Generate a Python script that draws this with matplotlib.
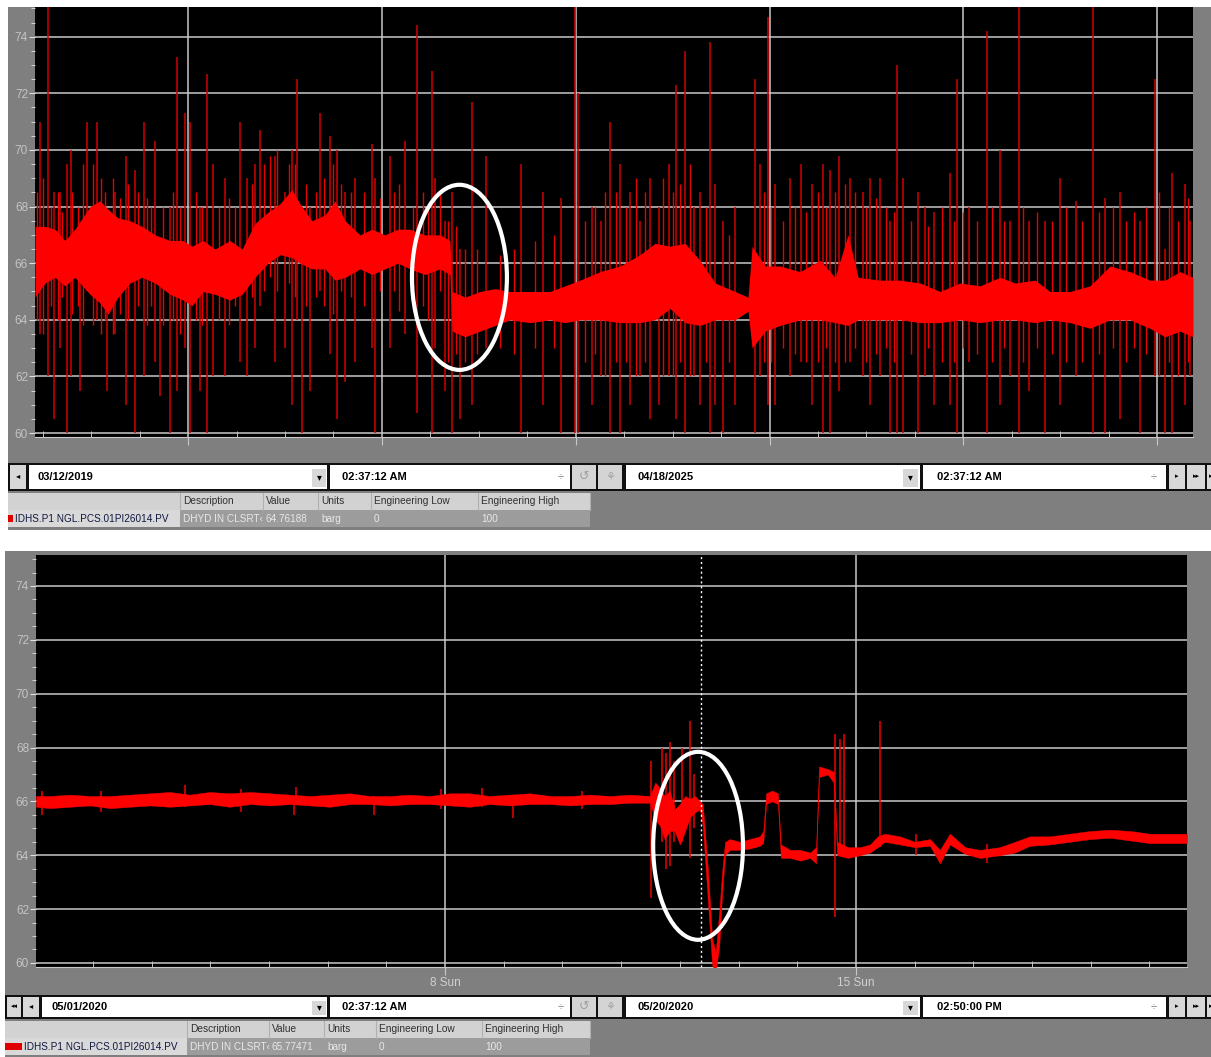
import numpy as np
import matplotlib
matplotlib.use('Agg')
import matplotlib.pyplot as plt
from matplotlib.patches import Rectangle, Ellipse

plt.rcParams['font.family'] = ['Liberation Sans', 'DejaVu Sans']

# ---------------- top trend: 03/12/2019 -> 04/18/2025, x in years from start
top_x = [0.000, 0.052, 0.103, 0.155, 0.206, 0.284, 0.335, 0.377, 0.428, 0.490,
         0.552, 0.619, 0.697, 0.764, 0.810, 0.867, 0.929, 1.006, 1.068, 1.135,
         1.202, 1.264, 1.326, 1.367, 1.429, 1.496, 1.548, 1.600, 1.677, 1.739,
         1.806, 1.873, 1.935, 2.012, 2.090, 2.141, 2.152, 2.219, 2.296, 2.374,
         2.451, 2.554, 2.657, 2.735, 2.812, 2.915, 3.019, 3.122, 3.199, 3.277,
         3.354, 3.431, 3.509, 3.612, 3.679, 3.700, 3.767, 3.844, 3.947, 4.051,
         4.128, 4.195, 4.247, 4.360, 4.463, 4.567, 4.670, 4.773, 4.876, 4.979,
         5.057, 5.160, 5.237, 5.341, 5.444, 5.547, 5.650, 5.753, 5.831, 5.908, 5.975]
top_lo = [64.8, 65.3, 65.5, 65.2, 65.5, 64.9, 64.6, 64.2, 64.8, 65.3,
          65.5, 65.3, 64.9, 64.7, 64.5, 65.0, 64.9, 64.7, 64.9, 65.5,
          66.0, 66.3, 66.2, 66.0, 65.8, 65.8, 65.4, 65.5, 65.8, 65.6,
          65.8, 66.0, 65.8, 65.6, 65.8, 65.6, 63.6, 63.4, 63.6, 63.8,
          64.0, 63.9, 64.0, 63.9, 64.0, 64.0, 63.9, 63.9, 64.0, 64.4,
          63.9, 63.8, 64.0, 64.0, 64.3, 63.0, 63.6, 63.8, 64.0, 64.0,
          63.9, 63.8, 64.0, 64.0, 64.0, 63.9, 63.9, 64.0, 63.9, 64.0,
          64.0, 63.9, 64.0, 63.9, 63.7, 64.0, 64.0, 63.7, 63.4, 63.6, 63.4]
top_hi = [67.3, 67.3, 67.2, 66.8, 67.2, 68.0, 68.2, 67.9, 67.6, 67.5,
          67.3, 67.0, 66.8, 66.8, 66.6, 66.8, 66.5, 66.8, 66.5, 67.4,
          67.8, 68.1, 68.6, 68.1, 67.5, 67.7, 68.2, 67.5, 67.0, 67.2,
          67.0, 67.2, 67.2, 67.0, 67.0, 66.8, 65.0, 64.8, 65.0, 65.1,
          65.0, 65.0, 65.0, 65.2, 65.4, 65.7, 65.9, 66.3, 66.7, 66.6,
          66.7, 66.1, 65.3, 65.0, 64.8, 66.6, 65.9, 65.9, 65.7, 66.1,
          65.5, 67.0, 65.5, 65.4, 65.4, 65.3, 65.0, 65.3, 65.2, 65.5,
          65.3, 65.4, 65.0, 65.0, 65.2, 65.9, 65.7, 65.4, 65.4, 65.7, 65.5]

# isolated spikes of the top trend
spike_x = [0.026, 0.067, 0.098, 0.129, 0.165, 0.186, 0.232, 0.268, 0.320, 0.372,
           0.413, 0.470, 0.516, 0.562, 0.619, 0.645, 0.697, 0.733, 0.774, 0.800,
           0.851, 0.888, 0.918, 0.980, 1.058, 1.094, 1.135, 1.161, 1.238, 1.290,
           1.326, 1.352, 1.378, 1.420, 1.471, 1.522, 1.558, 1.600, 1.651, 1.739,
           1.754, 1.832, 1.909, 1.971, 2.048, 2.064, 2.116, 2.152, 2.193, 2.255,
           2.327, 2.508, 2.621, 2.714, 2.786, 2.802, 2.874, 2.920, 2.967, 3.019,
           3.070, 3.120, 3.173, 3.220, 3.270, 3.308, 3.354, 3.400, 3.431, 3.483,
           3.510, 3.550, 3.610, 3.715, 3.740, 3.782, 3.820, 3.896, 3.950, 4.010,
           4.066, 4.102, 4.150, 4.205, 4.270, 4.310, 4.360, 4.410, 4.448, 4.479,
           4.556, 4.590, 4.640, 4.721, 4.757, 4.820, 4.912, 4.979, 5.030, 5.077,
           5.130, 5.210, 5.289, 5.370, 5.459, 5.520, 5.599, 5.700, 5.779, 5.830,
           5.867, 5.934, 5.960]
spike_lo = [63.5, 62.0, 60.5, 63.0, 60.0, 62.0, 61.5, 65.0, 64.0, 61.5,
            63.5, 61.0, 60.0, 62.0, 62.5, 61.3, 60.0, 61.5, 63.0, 60.0,
            61.5, 60.0, 62.0, 62.0, 62.5, 62.0, 63.0, 64.5, 62.5, 63.0,
            61.0, 64.0, 60.0, 61.5, 65.0, 62.8, 60.5, 61.8, 62.5, 63.0,
            60.0, 63.0, 63.5, 60.7, 60.0, 63.0, 61.5, 60.0, 60.5, 61.0,
            63.0, 60.0, 61.0, 60.0, 60.0, 60.0, 61.0, 62.0, 60.0, 60.0,
            61.0, 62.0, 60.5, 61.0, 62.0, 60.5, 60.0, 62.0, 61.0, 60.0,
            61.0, 60.0, 61.0, 60.0, 62.0, 61.0, 61.0, 62.0, 62.5, 61.0,
            60.0, 60.0, 61.5, 62.5, 62.0, 61.0, 62.0, 60.0, 60.0, 60.0,
            60.0, 62.0, 61.0, 61.0, 60.0, 62.5, 60.0, 61.0, 62.0, 60.0,
            61.5, 60.0, 61.0, 62.0, 60.0, 60.0, 60.5, 60.0, 62.0, 60.0,
            60.0, 61.0, 62.0]
spike_hi = [71.0, 75.5, 68.5, 68.5, 69.5, 70.0, 67.0, 71.0, 71.0, 67.0,
            68.5, 69.8, 69.3, 71.0, 70.3, 66.0, 68.0, 73.3, 71.3, 71.0,
            68.0, 72.7, 69.5, 69.0, 71.0, 69.0, 69.5, 70.7, 69.8, 68.5,
            70.0, 72.5, 68.0, 68.0, 71.3, 70.5, 70.0, 68.5, 69.0, 70.2,
            69.0, 69.8, 70.3, 74.4, 72.8, 69.0, 67.5, 68.5, 66.5, 71.7,
            69.8, 69.5, 68.5, 68.3, 75.5, 72.0, 68.0, 67.5, 71.0, 69.5,
            68.5, 67.5, 69.0, 68.0, 69.5, 72.3, 73.5, 68.0, 68.5, 73.8,
            68.8, 67.5, 68.0, 72.5, 69.5, 74.7, 68.8, 69.0, 69.5, 68.8,
            69.5, 69.3, 69.8, 69.0, 68.5, 69.0, 69.0, 67.5, 73.0, 69.0,
            68.5, 68.0, 67.8, 69.2, 72.5, 68.0, 74.2, 70.0, 67.5, 75.5,
            67.5, 67.5, 69.0, 68.2, 75.5, 68.3, 68.5, 67.5, 72.5, 66.5,
            69.2, 68.8, 67.5]

# shorter hair-like excursions around the top band
hair_x = [0.01, 0.04, 0.08, 0.12, 0.14, 0.19, 0.22, 0.25, 0.30, 0.34, 0.36, 0.40,
          0.44, 0.48, 0.53, 0.58, 0.60, 0.66, 0.71, 0.75, 0.83, 0.86, 0.95, 1.00,
          1.03, 1.12, 1.18, 1.21, 1.25, 1.31, 1.34, 1.40, 1.45, 1.49, 1.54, 1.58,
          1.63, 1.70, 1.78, 1.85, 1.88, 1.95, 2.00, 2.03, 2.09, 2.13, 2.17, 2.22,
          2.28, 2.40, 2.47, 2.58, 2.68, 2.84, 2.89, 2.94, 3.00, 3.05, 3.10, 3.15,
          3.24, 3.29, 3.33, 3.38, 3.46, 3.58, 3.76, 3.80, 3.86, 3.92, 3.98, 4.04,
          4.08, 4.13, 4.18, 4.23, 4.29, 4.34, 4.39, 4.43, 4.52, 4.61, 4.68, 4.74,
          4.79, 4.86, 4.94, 5.00, 5.10, 5.17, 5.25, 5.32, 5.40, 5.49, 5.56, 5.63,
          5.67, 5.73, 5.80, 5.85, 5.90, 5.95]
hair_lo = [64.0, 63.5, 64.5, 64.0, 64.8, 64.2, 64.5, 63.8, 63.8, 63.5, 64.0, 63.5,
           64.2, 64.0, 64.5, 63.8, 64.5, 63.8, 64.0, 63.5, 64.0, 63.8, 64.0, 63.8,
           64.5, 64.8, 65.0, 65.5, 65.0, 65.3, 64.8, 64.5, 64.8, 64.5, 64.2, 65.0,
           64.8, 64.5, 65.0, 65.0, 64.3, 64.8, 64.5, 64.0, 65.0, 62.5, 62.8, 62.5,
           62.8, 63.0, 62.8, 63.0, 63.0, 62.5, 62.8, 62.0, 62.5, 62.5, 62.0, 62.5,
           62.0, 62.0, 62.5, 62.0, 62.5, 62.5, 62.5, 62.5, 63.0, 62.8, 62.5, 62.5,
           63.0, 62.5, 62.5, 63.0, 62.5, 62.8, 63.0, 62.5, 62.8, 63.0, 62.5, 62.5,
           63.0, 62.8, 62.5, 63.0, 62.5, 63.0, 62.8, 62.5, 62.5, 62.8, 63.0, 62.5,
           63.0, 62.8, 62.0, 62.5, 62.0, 62.5]
hair_hi = [68.5, 69.0, 68.0, 68.5, 67.8, 68.5, 68.0, 69.5, 69.5, 69.0, 68.5, 69.0,
           68.3, 68.8, 68.5, 68.3, 68.0, 68.0, 68.5, 68.0, 68.5, 68.0, 68.0, 68.3,
           68.0, 68.8, 69.5, 69.8, 70.0, 69.5, 69.5, 68.8, 68.5, 69.0, 69.5, 68.8,
           68.5, 68.5, 68.3, 68.5, 68.8, 68.0, 68.5, 68.0, 68.5, 67.5, 67.3, 66.5,
           66.5, 66.3, 66.5, 66.8, 67.0, 67.5, 68.0, 68.5, 68.5, 68.0, 69.0, 68.5,
           69.0, 68.5, 68.8, 69.5, 68.0, 67.0, 68.5, 68.0, 67.5, 68.0, 67.8, 68.5,
           68.0, 68.5, 68.8, 68.5, 68.0, 68.3, 68.0, 67.8, 67.5, 67.3, 68.0, 67.5,
           67.8, 67.5, 68.0, 67.5, 68.0, 67.8, 67.5, 68.0, 67.5, 67.8, 68.0, 67.5,
           67.8, 68.0, 68.5, 68.0, 67.5, 68.3]

top_year_lines = [0.79, 1.79, 2.79, 3.79, 4.79, 5.79]
top_quarters = [0.04, 0.29, 0.54, 0.79, 1.04, 1.29, 1.54, 1.79, 2.04, 2.29, 2.54,
                2.79, 3.04, 3.29, 3.54, 3.79, 4.04, 4.29, 4.54, 4.79, 5.04, 5.29,
                5.54, 5.79]

# ---------------- bottom trend: 05/01/2020 -> 05/20/2020, x in days from start
bot_x = [0.00, 0.24, 0.58, 0.92, 1.26, 1.60, 1.94, 2.28, 2.62, 2.96,
         3.30, 3.65, 3.99, 4.33, 4.67, 5.01, 5.35, 5.69, 6.03, 6.37,
         6.71, 7.05, 7.39, 7.73, 8.07, 8.42, 8.76, 9.10, 9.44, 9.78,
         10.12, 10.46, 10.55, 10.63, 10.71, 10.80, 10.88, 10.97, 11.06, 11.14,
         11.23, 11.31, 11.36, 11.45, 11.52, 11.58, 11.64, 11.69, 11.74, 11.82,
         11.99, 12.16, 12.33, 12.39, 12.44, 12.54, 12.64, 12.69, 12.85, 13.02,
         13.19, 13.29, 13.34, 13.49, 13.59, 13.65, 13.83, 14.04, 14.21, 14.34,
         14.46, 14.72, 14.97, 15.23, 15.40, 15.57, 15.83, 16.08, 16.42, 16.68,
         16.93, 17.27, 17.61, 17.96, 18.30, 18.64, 18.98, 19.32, 19.61]
bot_lo = [65.8, 65.75, 65.8, 65.85, 65.75, 65.8, 65.85, 65.8, 65.85, 65.9,
          65.8, 65.9, 65.85, 65.9, 65.85, 65.8, 65.9, 65.9, 65.85, 65.9,
          65.9, 65.85, 65.8, 65.9, 65.85, 65.9, 65.9, 65.85, 65.9, 65.9,
          65.95, 65.95, 65.3, 65.1, 64.6, 64.9, 64.9, 64.4, 64.9, 65.4,
          65.6, 65.7, 65.1, 62.2, 59.9, 59.7, 60.6, 62.6, 64.0, 64.2,
          64.2, 64.25, 64.35, 64.45, 65.9, 66.0, 65.9, 63.9, 63.9, 63.8,
          63.9, 63.7, 66.9, 67.0, 66.7, 64.0, 63.9, 64.0, 64.1, 64.3,
          64.5, 64.4, 64.3, 64.35, 63.7, 64.4, 64.05, 63.9, 64.0, 64.1,
          64.35, 64.4, 64.5, 64.6, 64.65, 64.55, 64.45, 64.45, 64.45]
bot_hi = [66.2, 66.2, 66.25, 66.2, 66.2, 66.25, 66.3, 66.35, 66.25, 66.35,
          66.3, 66.35, 66.3, 66.25, 66.2, 66.25, 66.3, 66.2, 66.2, 66.25,
          66.2, 66.3, 66.3, 66.2, 66.25, 66.3, 66.2, 66.2, 66.25, 66.2,
          66.25, 66.2, 66.7, 66.5, 66.2, 66.4, 65.7, 65.9, 66.2, 66.1,
          66.2, 66.0, 65.9, 63.4, 60.9, 60.4, 61.9, 63.4, 64.5, 64.6,
          64.5, 64.6, 64.7, 64.9, 66.3, 66.4, 66.3, 64.4, 64.2, 64.2,
          64.1, 64.3, 67.3, 67.2, 67.1, 64.5, 64.3, 64.3, 64.4, 64.7,
          64.8, 64.7, 64.5, 64.6, 64.2, 64.8, 64.3, 64.2, 64.3, 64.5,
          64.7, 64.7, 64.8, 64.9, 64.95, 64.9, 64.8, 64.8, 64.8]

bspike_x = [0.10, 1.10, 2.54, 3.50, 4.40, 4.43, 5.76, 6.90, 7.60, 8.13, 9.30,
            10.48, 10.66, 10.73, 10.80, 10.87, 11.01, 11.14, 11.21,
            13.61, 13.70, 13.76, 14.38, 15.00, 16.20]
bspike_lo = [65.5, 65.6, 65.8, 65.6, 65.5, 65.9, 65.5, 65.7, 65.8, 65.4, 65.7,
             62.4, 64.5, 63.5, 63.6, 64.5, 64.5, 63.9, 65.0,
             61.7, 64.0, 64.0, 64.3, 64.0, 63.7]
bspike_hi = [66.4, 66.4, 66.6, 66.45, 66.2, 66.55, 66.2, 66.45, 66.5, 66.2, 66.4,
             67.5, 68.0, 67.8, 68.2, 67.5, 68.0, 69.0, 67.0,
             68.5, 68.3, 68.5, 69.0, 64.8, 64.4]

bot_major = [6.97, 13.97]
bot_major_labels = ['8 Sun', '15 Sun']
bot_days = [0.97, 1.97, 2.97, 3.97, 4.97, 5.97, 6.97, 7.97, 8.97, 9.97,
            10.97, 11.97, 12.97, 13.97, 14.97, 15.97, 16.97, 17.97, 18.97]
cursor_day = 11.33

table_cols = ['Description', 'Value', 'Units', 'Engineering Low', 'Engineering High']
tag = 'IDHS.P1 NGL.PCS.01PI26014.PV'
top_row = ['DHYD IN CLSRT\u2039', '64.76188', 'barg', '0', '100']
bot_row = ['DHYD IN CLSRT\u2039', '65.77471', 'barg', '0', '100']

W, H = 1211, 1057
GRAY = '#807f80'
fig = plt.figure(figsize=(W / 100, H / 100), dpi=100)
fig.patch.set_facecolor('white')

ui = fig.add_axes([0, 0, 1, 1])
ui.set_xlim(0, W)
ui.set_ylim(H, 0)
ui.axis('off')


def box(x0, y0, x1, y1, fc, ec='none', lw=0):
    ui.add_patch(Rectangle((x0, y0), x1 - x0, y1 - y0, facecolor=fc, edgecolor=ec, lw=lw))


def txt(x, y, s, color='black', size=7.5, weight='normal', ha='left'):
    return ui.text(x, y, s, color=color, fontsize=size, fontweight=weight, ha=ha, va='center')


def controls(y0, y1, left_x, date1, time1, date2, time2, two_left):
    ym = (y0 + y1) / 2
    box(left_x, y0, W, y1, '#101010')
    bx = left_x + 2
    if two_left:
        box(bx, y0 + 2, bx + 14, y1 - 2, '#d8d8d8')
        txt(bx + 7, ym, '\u25c2\u25c2', size=5, ha='center')
        bx += 16
    box(bx, y0 + 2, bx + 16, y1 - 2, '#d8d8d8')
    txt(bx + 8, ym, '\u25c2', size=6, ha='center')
    fx = bx + 19
    box(fx, y0 + 2, 327, y1 - 2, 'white')
    box(312, y0 + 6, 326, y1 - 4, '#d8d8d8')
    txt(319, ym, '\u25be', size=7, ha='center')
    txt(fx + 9, ym, date1, size=8, weight='bold')
    box(330, y0 + 2, 570, y1 - 2, 'white')
    txt(342, ym, time1, size=8, weight='bold')
    txt(561, ym, '\u00f7', color='#777777', size=8, ha='center')
    box(572, y0 + 2, 596, y1 - 2, '#d4d4d4')
    box(598, y0 + 2, 622, y1 - 2, '#d4d4d4')
    txt(584, ym, '\u21ba', color='#a0a0a0', size=9, ha='center')
    txt(610, ym, '\u2698', color='#a0a0a0', size=8, ha='center')
    box(626, y0 + 2, 920, y1 - 2, 'white')
    box(903, y0 + 6, 918, y1 - 4, '#d8d8d8')
    txt(910, ym, '\u25be', size=7, ha='center')
    txt(638, ym, date2, size=8, weight='bold')
    box(923, y0 + 2, 1166, y1 - 2, 'white')
    txt(937, ym, time2, size=8, weight='bold')
    txt(1154, ym, '\u00f7', color='#777777', size=8, ha='center')
    for x0, x1, s in [(1169, 1185, '\u25b8'), (1187, 1205, '\u25b8\u25b8'), (1207, 1215, '\u25b8')]:
        box(x0, y0 + 2, x1, y1 - 2, '#d8d8d8')
        txt((x0 + x1) / 2, ym, s, size=5, ha='center')


def table(y0, left_x, row, col_x, sw):
    ym = y0 + 17
    box(left_x, y0, 590, ym, '#d2d2d2')
    for cx, name in zip(col_x, table_cols):
        ui.plot([cx - 3, cx - 3], [y0, ym], color='#b0b0b0', lw=0.8)
        txt(cx, (y0 + ym) / 2, name, color='#303030', size=7.3)
    ui.plot([590, 590], [y0, ym], color='#b0b0b0', lw=0.8)
    box(left_x, ym, col_x[0] - 3, ym + 17, '#d9d9d9')
    box(col_x[0] - 3, ym, 590, ym + 17, '#9c9c9c')
    box(left_x, ym + 5, left_x + sw, ym + 12, '#e00000')
    txt(left_x + sw + 2, ym + 8.5, tag, color='#101840', size=7.2)
    edges = list(col_x[1:]) + [590]
    for cx, nx, v in zip(col_x, edges, row):
        t = txt(cx, ym + 8.5, v, color='#e8e8e8', size=7.2)
        clip = Rectangle((cx - 2, ym), nx - cx - 2, 17, transform=ui.transData)
        t.set_clip_path(clip)


# ---------------- top screenshot frame
box(8, 7, W, 530, GRAY)
controls(463, 491, 8, '03/12/2019', '02:37:12 AM', '04/18/2025', '02:37:12 AM', False)
table(493, 8, top_row, [183, 266, 321, 374, 481], 5)

# ---------------- bottom screenshot frame
box(5, 551, W, H, GRAY)
controls(995, 1019, 5, '05/01/2020', '02:37:12 AM', '05/20/2020', '02:50:00 PM', True)
table(1021, 5, bot_row, [190, 272, 327, 379, 485], 17)


def trend_axes(x0, y0, x1, y1, ylim):
    ax = fig.add_axes([x0 / W, 1 - y1 / H, (x1 - x0) / W, (y1 - y0) / H])
    ax.set_facecolor('black')
    ax.set_ylim(*ylim)
    ax.set_yticks(np.arange(60, 75, 2))
    ax.set_yticks(np.arange(60, 75.1, 0.5), minor=True)
    ax.tick_params(axis='y', which='major', colors='#e0e0e0', labelcolor='#c4c4c4',
                   labelsize=8.5, length=4, pad=1, direction='out')
    ax.tick_params(axis='y', which='minor', colors='#e0e0e0', length=3, direction='out')
    ax.grid(True, which='major', color='#c8c8c8', lw=1.1)
    for s in ['top', 'left', 'right']:
        ax.spines[s].set_visible(False)
    ax.spines['bottom'].set_color('#c8c8c8')
    return ax


# top trend
ax1 = trend_axes(35, 7, 1193, 437, (59.86, 75.05))
ax1.set_xlim(0, 5.975)
ax1.set_xticks(top_year_lines)
ax1.set_xticklabels([])
ax1.set_xticks(top_quarters, minor=True)
ax1.tick_params(axis='x', which='major', colors='#c8c8c8', length=6, direction='out')
ax1.tick_params(axis='x', which='minor', colors='#e0e0e0', length=4, direction='in')
ax1.vlines(spike_x, spike_lo, spike_hi, color='#d00000', lw=1.1, zorder=3)
ax1.vlines(hair_x, hair_lo, hair_hi, color='#e60000', lw=1.0, zorder=3)
ax1.fill_between(top_x, top_lo, top_hi, color='#ff0000', lw=0, zorder=4)
ax1.add_patch(Ellipse((2.19, 65.5), 0.49, 6.54, fill=False, ec='white', lw=3, zorder=6))

# bottom trend
ax2 = trend_axes(36, 555, 1187, 967, (59.85, 75.15))
ax2.set_xlim(0, 19.61)
ax2.set_xticks(bot_major)
ax2.set_xticklabels(bot_major_labels)
ax2.set_xticks(bot_days, minor=True)
ax2.tick_params(axis='x', which='major', colors='#c8c8c8', labelcolor='#d0d0d0',
                labelsize=8.5, length=6, pad=1, direction='out')
ax2.tick_params(axis='x', which='minor', colors='#e0e0e0', length=4, direction='in')
ax2.axvline(cursor_day, color='white', lw=1, ls=(0, (1.5, 2)), zorder=5)
ax2.vlines(bspike_x, bspike_lo, bspike_hi, color='#f00000', lw=1.1, zorder=3)
ax2.fill_between(bot_x, bot_lo, bot_hi, color='#ff0000', lw=0.3, zorder=4)
ax2.add_patch(Ellipse((11.28, 64.35), 1.53, 6.98, fill=False, ec='white', lw=3, zorder=6))

fig.savefig('out.png', dpi=100, facecolor='white')
